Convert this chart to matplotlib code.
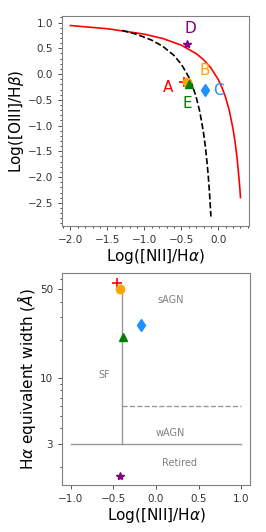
import numpy as np
from matplotlib import pyplot as plt
from matplotlib.ticker import AutoMinorLocator, FixedLocator, FixedFormatter

# demarcation curves
kew_x = [-2.0, -1.5, -1.0, -0.75, -0.5, -0.3, -0.2, -0.1, 0.0, 0.05, 0.1, 0.15,
         0.2, 0.225, 0.25, 0.265, 0.28, 0.29, 0.3]
kew_y = [0.943, 0.880, 0.775, 0.690, 0.561, 0.398, 0.280, 0.120, -0.108, -0.262,
         -0.459, -0.716, -1.069, -1.300, -1.583, -1.794, -2.020, -2.194, -2.398]
kau_x = [-1.3, -1.1, -0.9, -0.75, -0.6, -0.5, -0.4, -0.35, -0.3, -0.25, -0.2,
         -0.175, -0.15, -0.135, -0.125, -0.115, -0.1]
kau_y = [0.848, 0.770, 0.658, 0.538, 0.362, 0.191, -0.056, -0.225, -0.443, -0.733,
         -1.140, -1.411, -1.750, -1.997, -2.186, -2.397, -2.767]

# sources
names = ['A', 'B', 'C', 'D', 'E']
colors = ['red', 'orange', 'dodgerblue', 'purple', 'green']
markers = ['+', 'o', 'd', '*', '^']
sizes = [7, 6, 6, 6, 6]
nii = [-0.46, -0.42, -0.18, -0.42, -0.39]
oiii = [-0.15, -0.16, -0.31, 0.58, -0.19]
ew = [56, 50, 26, 1.7, 21]
label_x = [-0.68, -0.19, 0.0, -0.38, -0.42]
label_y = [-0.26, 0.06, -0.32, 0.88, -0.58]

# WHAN regions
region_names = ['sAGN', 'SF', 'wAGN', 'Retired']
region_x = [0.17, -0.6, 0.17, 0.28]
region_y = [41, 10.5, 3.7, 2.15]
ew_ticks = [3, 10, 50]

fig = plt.figure(figsize=(2.66, 5.32), dpi=100)

ax1 = fig.add_axes([0.233, 0.575, 0.703, 0.395])
ax1.plot(kew_x, kew_y, color='red', lw=1.2)
ax1.plot(kau_x, kau_y, color='black', ls='--', lw=1.2)
for i in range(len(names)):
    ax1.plot(nii[i], oiii[i], marker=markers[i], color=colors[i], ms=sizes[i],
             mew=1.2 if markers[i] == '+' else 1, ls='none')
    ax1.text(label_x[i], label_y[i], names[i], color=colors[i], fontsize=11,
             ha='center', va='center')
ax1.set_xticks([-2.0, -1.5, -1.0, -0.5, 0.0])
ax1.set_xlabel('Log([NII]/H$\\alpha$)', fontsize=11, labelpad=1)
ax1.set_ylabel('Log([OIII]/H$\\beta$)', fontsize=11, labelpad=1)
ax1.xaxis.set_minor_locator(AutoMinorLocator(5))
ax1.yaxis.set_minor_locator(AutoMinorLocator(5))

ax2 = fig.add_axes([0.233, 0.088, 0.707, 0.398])
ax2.set_yscale('log')
ax2.plot([-0.4, -0.4], [3, 50], color='gray', lw=1, alpha=0.8)
ax2.plot([-1, 1], [3, 3], color='gray', lw=1, alpha=0.8)
ax2.plot([-0.4, 1], [6, 6], color='gray', lw=1, ls='--', alpha=0.8)
for i in range(len(names)):
    ax2.plot(nii[i], ew[i], marker=markers[i], color=colors[i], ms=sizes[i],
             mew=1.2 if markers[i] == '+' else 1, ls='none')
for i in range(len(region_names)):
    ax2.text(region_x[i], region_y[i], region_names[i], color='gray', fontsize=7,
             ha='center', va='center')
ax2.yaxis.set_major_locator(FixedLocator(ew_ticks))
ax2.yaxis.set_major_formatter(FixedFormatter([str(t) for t in ew_ticks]))
ax2.yaxis.set_minor_formatter(FixedFormatter([]))
ax2.set_xticks([-1.0, -0.5, 0.0, 0.5, 1.0])
ax2.set_xlabel('Log([NII]/H$\\alpha$)', fontsize=11, labelpad=1)
ax2.set_ylabel('H$\\alpha$ equivalent width ($\\AA$)', fontsize=11, labelpad=1)

for ax in [ax1, ax2]:
    ax.tick_params(labelsize=7.5, length=3, width=0.6, colors='#333333')
    ax.tick_params(which='minor', length=1.5, width=0.5)
    for s in ax.spines.values():
        s.set_color('gray')

fig.savefig('out.png', dpi=100)
